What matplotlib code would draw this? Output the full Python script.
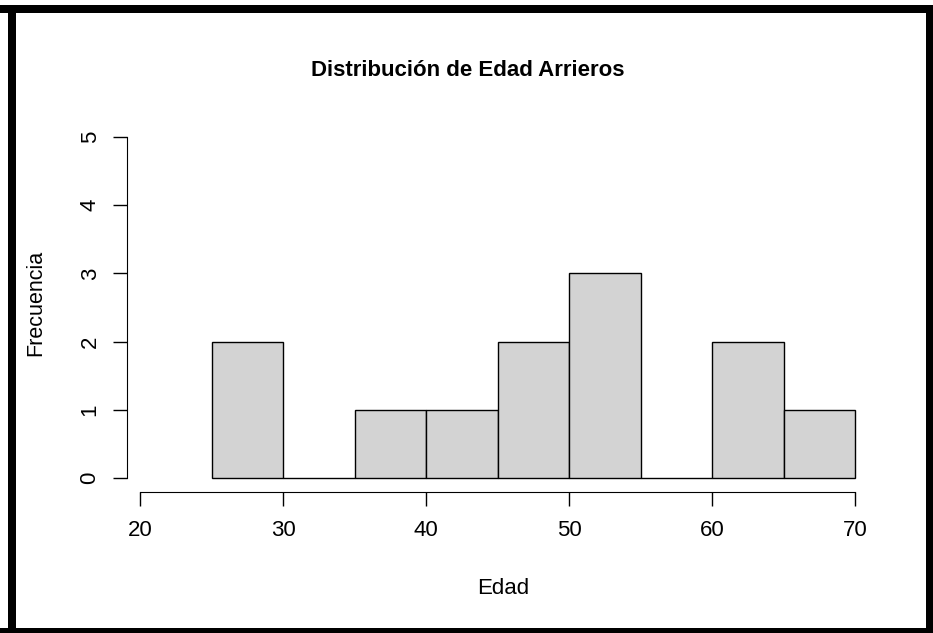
import matplotlib
matplotlib.use("Agg")
import matplotlib.pyplot as plt
from matplotlib.patches import Rectangle

plt.rcParams['font.family'] = ['Liberation Sans', 'DejaVu Sans']

# Histogram data: age bins (width 5) and counts
bin_edges = [25, 30, 35, 40, 45, 50, 55, 60, 65, 70]
counts = [2, 0, 1, 1, 2, 3, 0, 2, 1]
x_ticks = [20, 30, 40, 50, 60, 70]
y_ticks = [0, 1, 2, 3, 4, 5]

W, H = 933, 633
fig = plt.figure(figsize=(W / 100, H / 100), dpi=100)

# axes placed in pixel coords (left, bottom spine positions)
left_px, right_px = 127, 884
top_px, bottom_px = 123.4, 492
ax = fig.add_axes([left_px / W, 1 - bottom_px / H,
                   (right_px - left_px) / W, (bottom_px - top_px) / H])

widths = [b - a for a, b in zip(bin_edges[:-1], bin_edges[1:])]
ax.bar(bin_edges[:-1], counts, width=widths, align='edge',
       color='#d3d3d3', edgecolor='black', linewidth=1.0)

ax.set_xlim(19.09, 72)
ax.set_ylim(-0.205, 5.2)
ax.spines['top'].set_visible(False)
ax.spines['right'].set_visible(False)
ax.spines['left'].set_bounds(0, 5)
ax.spines['bottom'].set_bounds(20, 70)
ax.set_xticks(x_ticks)
ax.set_yticks(y_ticks)
ax.tick_params(axis='both', length=10, width=1.0, labelsize=16, colors='black')
ax.tick_params(axis='x', pad=10)
ax.tick_params(axis='y', pad=9)
for lab in ax.get_yticklabels():
    lab.set_rotation(90)
    lab.set_va('center')

fig.text(503 / W, 1 - 588 / H, 'Edad', ha='center', va='center', fontsize=16)
fig.text(36 / W, 1 - 303 / H, 'Frecuencia', ha='center', va='center',
         rotation=90, fontsize=15.5)
fig.text(468 / W, 1 - 71 / H, 'Distribución de Edad Arrieros', ha='center',
         va='center', fontsize=16, fontweight='bold')

# thick black frame around the image
frame_kw = dict(transform=fig.transFigure, facecolor='black', edgecolor='none')
fig.patches.append(Rectangle((8 / W, 0), 8 / W, 1 - 5 / H, **frame_kw))
fig.patches.append(Rectangle((0, 1 - 13 / H), 1, 8 / H, **frame_kw))
fig.patches.append(Rectangle((0, 0), 1, 5 / H, **frame_kw))
fig.patches.append(Rectangle((926 / W, 0), 7 / W, 1 - 5 / H, **frame_kw))

fig.savefig('out.png', dpi=100)
